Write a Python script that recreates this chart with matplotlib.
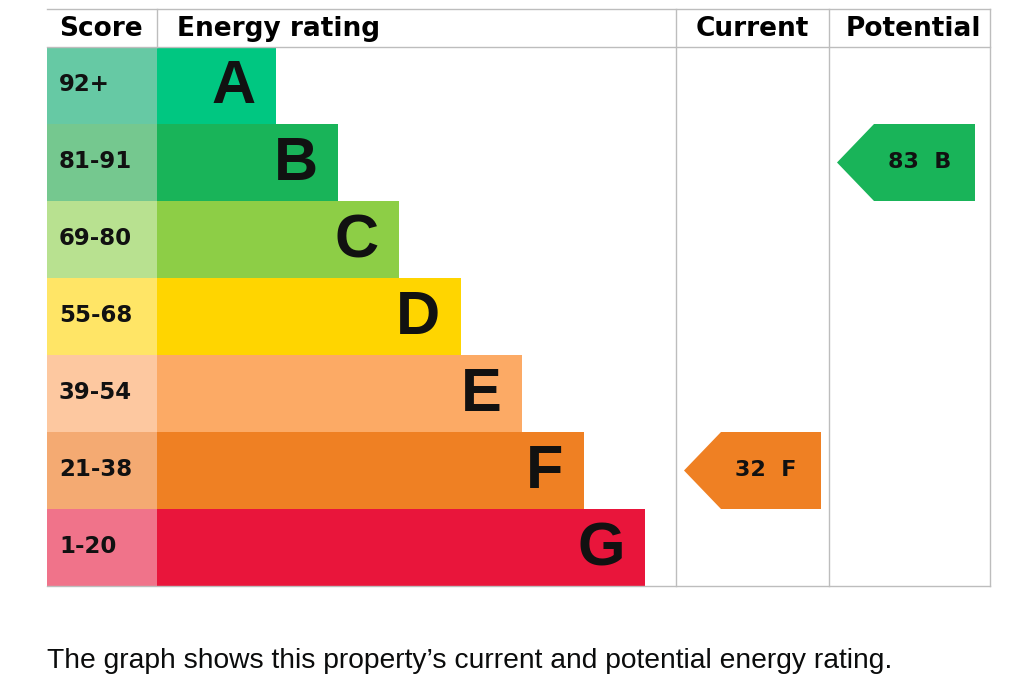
import matplotlib.pyplot as plt
from matplotlib.patches import Rectangle, Polygon

bands = ['A', 'B', 'C', 'D', 'E', 'F', 'G']
scores = ['92+', '81-91', '69-80', '55-68', '39-54', '21-38', '1-20']
band_colors = ['#00c781', '#19b459', '#8dce46', '#ffd500', '#fcaa65', '#ef8023', '#e9153b']
score_colors = ['#66c9a4', '#75c88f', '#b8e190', '#ffe566', '#fdc8a0', '#f4aa72', '#f0738a']
band_low = [92, 81, 69, 55, 39, 21, 1]
current = 32
potential = 83
headers = ['Score', 'Energy rating', 'Current', 'Potential']
footer = 'The graph shows this property\u2019s current and potential energy rating.'

plt.rcParams['font.family'] = ['Liberation Sans', 'DejaVu Sans']
wide = 'DejaVu Sans'

# layout in pixels
left, score_r, rating_r, cur_r, right = 47, 157, 676, 829, 990
top, head_b, row_h = 9, 47, 77
bar_w0, bar_step = 119, 61.5
grid = '#bdbdbd'

fig = plt.figure(figsize=(10.24, 6.87), dpi=100)
ax = fig.add_axes([0, 0, 1, 1])
ax.set_xlim(0, 1024)
ax.set_ylim(687, 0)
ax.axis('off')


def band_of(v):
    for i, lo in enumerate(band_low):
        if v >= lo:
            return i
    return len(band_low) - 1


for i, (b, s) in enumerate(zip(bands, scores)):
    y = head_b + i * row_h
    w = bar_w0 + i * bar_step
    ax.add_patch(Rectangle((left, y), score_r - left, row_h, color=score_colors[i], lw=0))
    ax.add_patch(Rectangle((score_r, y), w, row_h, color=band_colors[i], lw=0))
    ax.text(left + 12, y + row_h / 2 - 1, s, fontsize=16.5, fontweight='bold', va='center',
            ha='left', family=wide, color='#111111')
    ax.text(score_r + w - 20, y + row_h / 2 + 2, b, fontsize=44, fontweight='bold',
            va='center', ha='right', color='#111111')

bottom = head_b + len(bands) * row_h

# grid lines
ax.plot([left, right], [top, top], color=grid, lw=1)
ax.plot([left, right], [head_b, head_b], color=grid, lw=1)
ax.plot([left, right], [bottom, bottom], color=grid, lw=1)
ax.plot([score_r, score_r], [top, head_b], color=grid, lw=1)
for x in [rating_r, cur_r, right]:
    ax.plot([x, x], [top, bottom], color=grid, lw=1)

# headers
hy = (top + head_b) / 2 + 1
ax.text(left + 12, hy, headers[0], fontsize=19, fontweight='bold', va='center', family=wide)
ax.text(score_r + 20, hy, headers[1], fontsize=19, fontweight='bold', va='center', family=wide)
ax.text((rating_r + cur_r) / 2, hy, headers[2], fontsize=19, fontweight='bold',
        va='center', ha='center', family=wide)
ax.text((cur_r + right) / 2 + 4, hy, headers[3], fontsize=19, fontweight='bold',
        va='center', ha='center', family=wide)


def arrow(col_l, col_r, value):
    i = band_of(value)
    y0 = head_b + i * row_h
    y1 = y0 + row_h
    tip = col_l + 8
    rx = col_r - 8
    pts = [(tip, (y0 + y1) / 2), (tip + 37, y0), (rx, y0), (rx, y1), (tip + 37, y1)]
    ax.add_patch(Polygon(pts, closed=True, color=band_colors[i], lw=0))
    ax.text((tip + 37 + rx) / 2 - 5, (y0 + y1) / 2, f'{value}  {bands[i]}', fontsize=16,
            fontweight='bold', va='center', ha='center', family=wide, color='#111111')


arrow(rating_r, cur_r, current)
arrow(cur_r, right - 7, potential)

ax.text(left, 661, footer, fontsize=20.3, va='center', ha='left', color='#0b0c0c')

fig.savefig('out.png', dpi=100)
